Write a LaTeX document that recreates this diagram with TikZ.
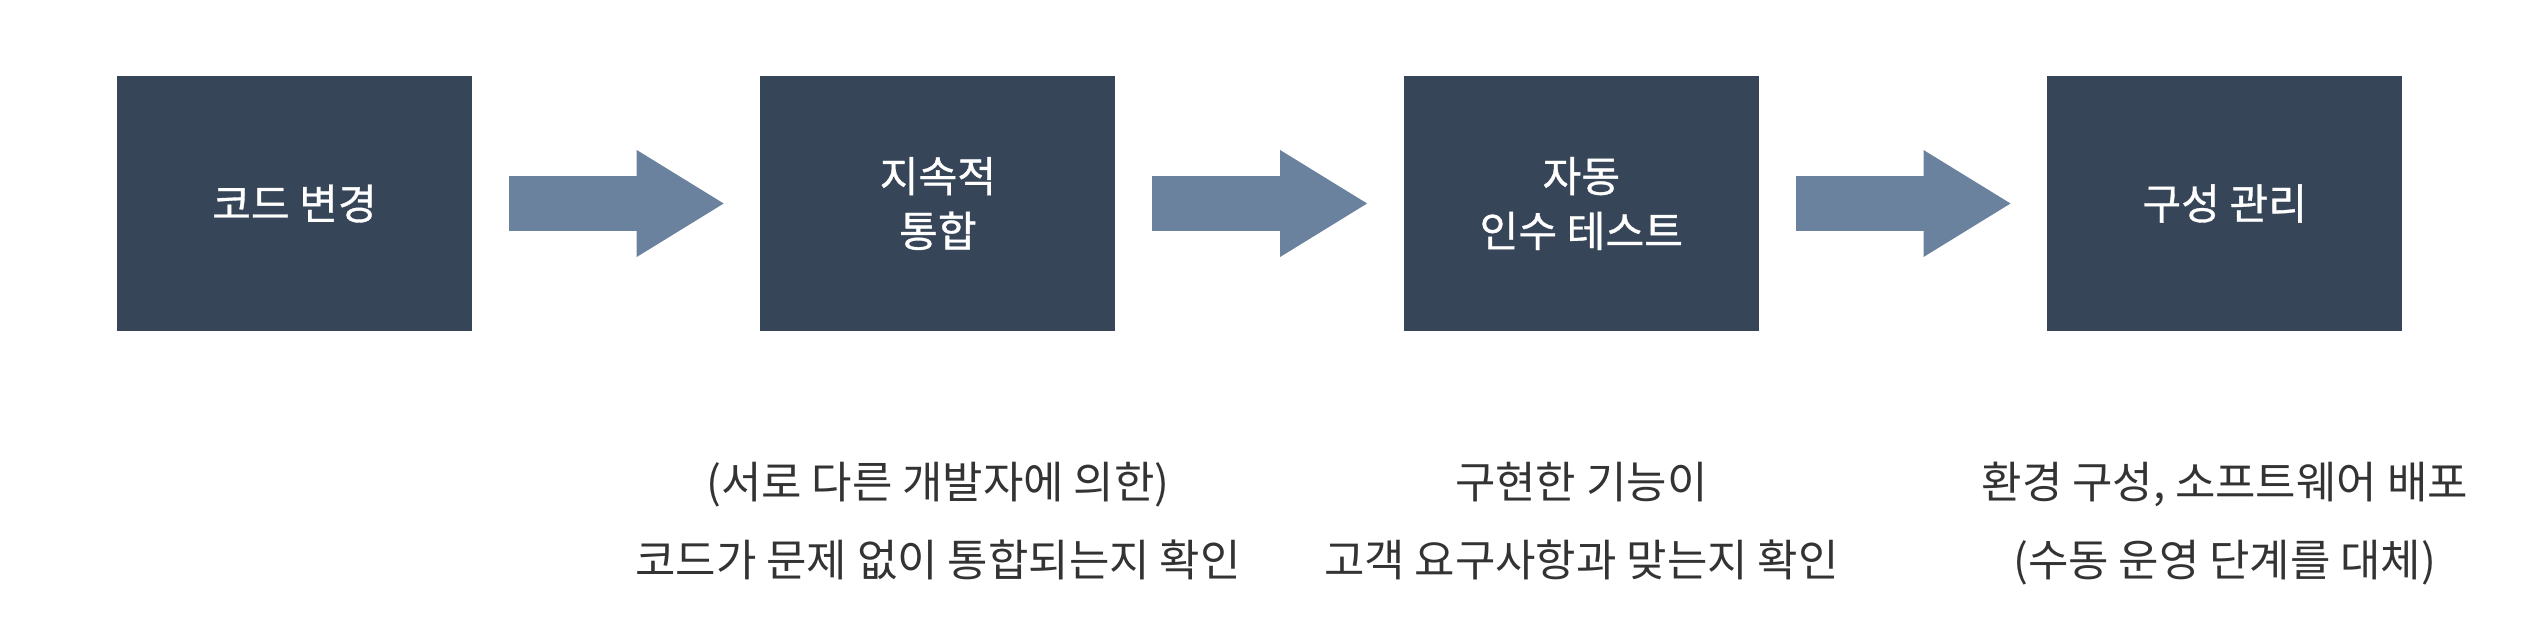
\documentclass[tikz,border=0pt]{standalone}
\usepackage{fontspec}
\usepackage{tikz}
\usepackage{xcolor}
\usetikzlibrary{arrows.meta, positioning}
\newfontfamily\krfont{Noto Sans CJK KR}
\newfontfamily\krboxfont[FakeBold=0.8]{Noto Sans CJK KR}
\definecolor{Step_Slate}{HTML}{374558}
\definecolor{Step_Steel}{HTML}{6B829E}
\definecolor{Note_Gray}{HTML}{333333}

\begin{document}
\begin{tikzpicture}[
    stepbox/.style={rectangle, fill=Step_Slate, text=white, minimum width=3.55cm, minimum height=2.55cm,
        align=center, inner sep=0pt, font=\krboxfont\fontsize{12}{15.6}\selectfont},
    flow/.style={line width=5.5mm, Step_Steel, -{Triangle[length=8.7mm, width=10.7mm, line width=0pt]}},
    note/.style={inner sep=0pt, align=center, text=Note_Gray, font=\krfont\fontsize{12.5}{22.2}\selectfont}
]
    % Frame
    \useasboundingbox (0,0) rectangle (25.44,-6.24);
    % Pipeline steps
    \node[stepbox] (change) at (2.945,-2.035) {코드 변경};
    \node[stepbox, right=2.87cm of change] (ci) {지속적\\통합};
    \node[stepbox, right=2.87cm of ci] (uat) {자동\\인수 테스트};
    \node[stepbox, right=2.87cm of uat] (cm) {구성 관리};
    % Arrows between steps
    \draw[flow] ([xshift=3.6mm]change.east) -- ([xshift=-3.6mm]ci.west);
    \draw[flow] ([xshift=3.6mm]ci.east) -- ([xshift=-3.6mm]uat.west);
    \draw[flow] ([xshift=3.6mm]uat.east) -- ([xshift=-3.6mm]cm.west);
    % Notes under steps
    \node[note, below=1.3cm of ci] (ci_note) {(서로 다른 개발자에 의한)\\코드가 문제 없이 통합되는지 확인};
    \node[note, below=1.3cm of uat] (uat_note) {구현한 기능이\\고객 요구사항과 맞는지 확인};
    \node[note, below=1.3cm of cm] (cm_note) {환경 구성, 소프트웨어 배포\\(수동 운영 단계를 대체)};
\end{tikzpicture}
\end{document}
